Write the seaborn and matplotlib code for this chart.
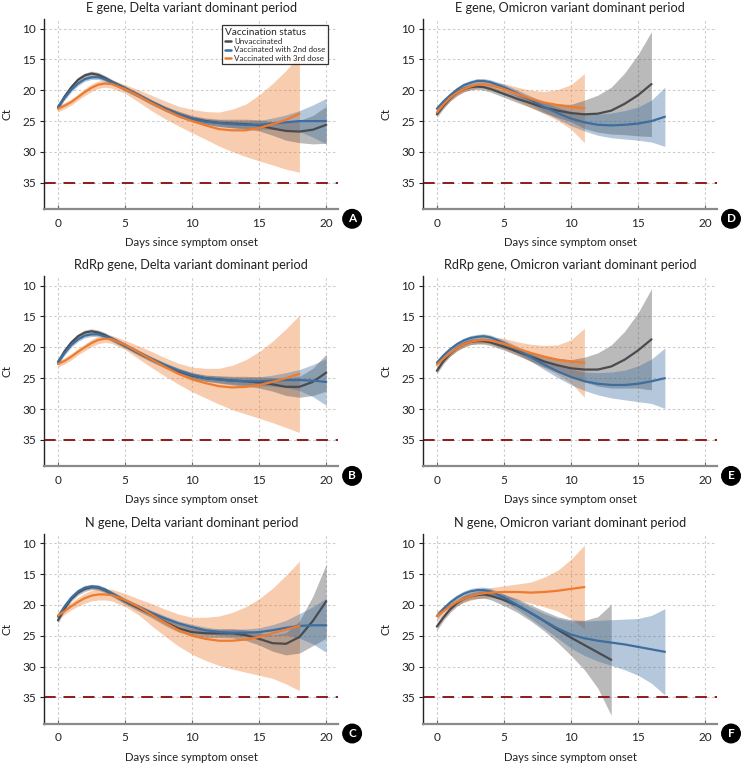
import numpy as np
import pandas as pd
import matplotlib
matplotlib.use("Agg")
import matplotlib.pyplot as plt
import seaborn as sns

# ---------------- data ----------------
DAYS = [0, 0.5, 1, 1.5, 2, 2.5, 3, 3.5, 4, 5, 6, 7, 8, 9, 10, 11, 12, 13, 14, 15, 16, 17, 18, 19, 20]
STATUS = ["Unvaccinated", "Vaccinated with 2nd dose", "Vaccinated with 3rd dose"]
X_TICKS = [0, 5, 10, 15, 20]
Y_TICKS = [10, 15, 20, 25, 30, 35]
THRESHOLD = 35
TITLES = ["E gene, Delta variant dominant period",
          "RdRp gene, Delta variant dominant period",
          "N gene, Delta variant dominant period",
          "E gene, Omicron variant dominant period",
          "RdRp gene, Omicron variant dominant period",
          "N gene, Omicron variant dominant period"]
LETTERS = ["A", "B", "C", "D", "E", "F"]

# Panel A
A_unvax = [22.8, 21.0, 19.5, 18.3, 17.6, 17.3, 17.5, 18.0, 18.6, 19.7, 20.8, 22.0, 23.0, 23.9, 24.6, 25.0, 25.3, 25.4, 25.5, 25.7, 26.2, 26.6, 26.7, 26.4, 25.6]
A_unvax_ci = [0.4, 0.4, 0.4, 0.4, 0.4, 0.4, 0.4, 0.4, 0.4, 0.4, 0.4, 0.4, 0.4, 0.5, 0.5, 0.5, 0.6, 0.7, 0.8, 0.9, 1.1, 1.5, 1.8, 2.3, 3.0]
A_second = [22.7, 21.2, 19.9, 18.9, 18.2, 17.9, 17.9, 18.2, 18.7, 19.7, 20.8, 21.9, 23.0, 23.9, 24.6, 25.1, 25.3, 25.5, 25.6, 25.6, 25.4, 25.2, 25.0, 25.0, 25.0]
A_second_ci = [0.4, 0.35, 0.35, 0.35, 0.35, 0.35, 0.35, 0.35, 0.35, 0.35, 0.35, 0.35, 0.4, 0.4, 0.4, 0.45, 0.5, 0.55, 0.6, 0.7, 0.9, 1.2, 1.7, 2.6, 3.7]
A_third = [23.0, 22.5, 21.9, 21.1, 20.3, 19.6, 19.1, 18.9, 19.0, 19.8, 20.9, 22.1, 23.2, 24.2, 25.0, 25.7, 26.3, 26.5, 26.5, 26.1, 25.5, 24.8, 23.8]
A_third_ci = [0.5, 0.5, 0.5, 0.5, 0.55, 0.6, 0.6, 0.6, 0.65, 0.7, 1.0, 1.25, 1.45, 1.6, 1.9, 2.25, 2.75, 3.45, 4.25, 5.35, 6.6, 8.0, 9.5]

# Panel B
B_unvax = [22.4, 20.6, 19.2, 18.2, 17.6, 17.4, 17.6, 18.0, 18.6, 19.7, 20.9, 22.0, 23.0, 23.9, 24.6, 25.0, 25.2, 25.4, 25.5, 25.7, 26.0, 26.4, 26.4, 25.6, 24.1]
B_unvax_ci = [0.4, 0.4, 0.4, 0.4, 0.4, 0.4, 0.4, 0.4, 0.4, 0.4, 0.4, 0.4, 0.4, 0.5, 0.5, 0.5, 0.6, 0.7, 0.8, 0.9, 1.1, 1.4, 1.7, 2.2, 3.0]
B_second = [22.4, 20.9, 19.6, 18.7, 18.1, 17.9, 17.9, 18.2, 18.6, 19.7, 20.8, 21.9, 22.9, 23.8, 24.5, 25.0, 25.2, 25.4, 25.5, 25.5, 25.4, 25.3, 25.3, 25.4, 25.6]
B_second_ci = [0.4, 0.35, 0.35, 0.35, 0.35, 0.35, 0.35, 0.35, 0.35, 0.35, 0.35, 0.35, 0.4, 0.4, 0.4, 0.45, 0.5, 0.55, 0.6, 0.7, 0.9, 1.2, 1.7, 2.6, 3.8]
B_third = [22.7, 22.2, 21.5, 20.7, 20.0, 19.3, 18.8, 18.6, 18.7, 19.6, 20.8, 22.0, 23.2, 24.3, 25.2, 25.8, 26.3, 26.5, 26.4, 26.1, 25.6, 25.0, 24.3]
B_third_ci = [0.5, 0.5, 0.5, 0.5, 0.55, 0.6, 0.6, 0.6, 0.65, 0.75, 1.05, 1.3, 1.5, 1.7, 2.0, 2.4, 2.9, 3.6, 4.4, 5.4, 6.6, 8.0, 9.5]

# Panel C
C_unvax = [22.5, 20.5, 19.0, 18.0, 17.4, 17.1, 17.2, 17.6, 18.2, 19.4, 20.5, 21.6, 22.8, 23.8, 24.4, 24.6, 24.6, 24.6, 24.9, 25.5, 26.2, 26.3, 25.2, 22.6, 19.4]
C_unvax_ci = [0.5, 0.4, 0.4, 0.4, 0.4, 0.4, 0.4, 0.4, 0.4, 0.45, 0.5, 0.5, 0.55, 0.6, 0.6, 0.65, 0.7, 0.75, 0.85, 1.0, 1.3, 1.8, 2.6, 4.0, 6.0]
C_second = [21.9, 20.2, 18.8, 17.8, 17.2, 17.0, 17.1, 17.5, 18.1, 19.3, 20.3, 21.3, 22.2, 23.0, 23.6, 24.1, 24.4, 24.5, 24.5, 24.4, 24.1, 23.7, 23.4, 23.3, 23.3]
C_second_ci = [0.4, 0.35, 0.35, 0.35, 0.35, 0.35, 0.35, 0.35, 0.35, 0.35, 0.35, 0.4, 0.4, 0.4, 0.45, 0.5, 0.5, 0.55, 0.6, 0.7, 0.9, 1.2, 2.0, 3.0, 4.4]
C_third = [21.7, 21.0, 20.2, 19.5, 18.9, 18.5, 18.3, 18.3, 18.4, 19.2, 20.3, 21.6, 22.9, 24.1, 25.0, 25.5, 25.8, 25.8, 25.6, 25.2, 24.6, 24.0, 23.4]
C_third_ci = [0.55, 0.55, 0.6, 0.7, 0.8, 0.85, 0.9, 0.9, 0.95, 1.05, 1.3, 1.8, 2.2, 2.6, 3.0, 3.5, 4.0, 4.6, 5.3, 6.2, 7.3, 8.8, 10.5]

# Panel D
D_unvax = [23.9, 22.5, 21.3, 20.4, 19.8, 19.5, 19.4, 19.5, 19.8, 20.6, 21.4, 22.1, 22.8, 23.3, 23.7, 23.9, 23.8, 23.3, 22.2, 20.8, 19.0]
D_unvax_ci = [0.5, 0.45, 0.45, 0.45, 0.45, 0.45, 0.45, 0.5, 0.5, 0.55, 0.6, 0.7, 0.9, 1.1, 1.4, 2.3, 3.0, 3.8, 5.0, 6.6, 8.5]
D_second = [23.0, 21.8, 20.8, 19.9, 19.2, 18.8, 18.5, 18.5, 18.7, 19.5, 20.5, 21.6, 22.7, 23.7, 24.6, 25.2, 25.6, 25.7, 25.6, 25.4, 25.0, 24.3]
D_second_ci = [0.4, 0.4, 0.4, 0.4, 0.4, 0.4, 0.4, 0.4, 0.4, 0.5, 0.55, 0.65, 0.8, 0.95, 1.15, 1.4, 1.7, 2.0, 2.3, 2.7, 3.4, 4.8]
D_third = [23.6, 22.3, 21.2, 20.4, 19.8, 19.4, 19.1, 19.0, 19.2, 19.8, 20.6, 21.4, 22.0, 22.4, 22.7, 22.9]
D_third_ci = [0.5, 0.5, 0.5, 0.5, 0.5, 0.5, 0.55, 0.55, 0.6, 0.85, 1.1, 1.4, 1.8, 2.5, 3.6, 5.6]

# Panel E
E_unvax = [23.8, 22.2, 21.0, 20.1, 19.5, 19.1, 19.0, 19.0, 19.2, 19.9, 20.7, 21.5, 22.3, 22.9, 23.4, 23.6, 23.6, 23.1, 22.0, 20.5, 18.7]
E_unvax_ci = [0.5, 0.45, 0.45, 0.45, 0.45, 0.45, 0.45, 0.5, 0.5, 0.55, 0.6, 0.7, 0.9, 1.1, 1.4, 2.0, 2.7, 3.5, 4.6, 6.1, 8.2]
E_second = [22.5, 21.3, 20.3, 19.5, 18.9, 18.5, 18.3, 18.2, 18.4, 19.3, 20.4, 21.6, 22.8, 23.9, 24.8, 25.5, 25.9, 26.1, 26.1, 25.9, 25.5, 25.0]
E_second_ci = [0.4, 0.4, 0.4, 0.4, 0.4, 0.4, 0.4, 0.4, 0.4, 0.5, 0.55, 0.65, 0.8, 1.0, 1.25, 1.5, 1.8, 2.1, 2.4, 2.9, 3.6, 4.9]
E_third = [22.8, 21.8, 20.9, 20.1, 19.5, 19.1, 18.9, 18.8, 18.9, 19.4, 20.2, 20.9, 21.5, 22.0, 22.3, 22.5]
E_third_ci = [0.5, 0.5, 0.5, 0.5, 0.5, 0.5, 0.55, 0.55, 0.6, 0.85, 1.1, 1.4, 1.8, 2.4, 3.5, 5.6]

# Panel F
F_unvax = [23.5, 22.0, 20.7, 19.7, 19.0, 18.6, 18.4, 18.3, 18.5, 19.2, 20.1, 21.3, 22.6, 24.0, 25.3, 26.5, 27.7, 28.9]
F_unvax_ci = [0.6, 0.5, 0.5, 0.5, 0.5, 0.5, 0.55, 0.6, 0.65, 0.9, 1.1, 1.3, 1.6, 2.1, 2.9, 4.0, 5.8, 9.0]
F_second = [21.8, 20.6, 19.6, 18.8, 18.2, 17.8, 17.6, 17.6, 17.8, 18.8, 20.0, 21.3, 22.6, 23.8, 24.8, 25.4, 25.8, 26.1, 26.4, 26.8, 27.2, 27.6]
F_second_ci = [0.5, 0.45, 0.45, 0.45, 0.45, 0.45, 0.45, 0.5, 0.5, 0.6, 0.75, 0.95, 1.2, 1.6, 2.2, 2.8, 3.3, 3.7, 4.1, 4.6, 5.5, 7.0]
F_third = [21.8, 21.0, 20.2, 19.5, 19.0, 18.6, 18.3, 18.1, 18.0, 17.9, 17.9, 18.0, 17.9, 17.7, 17.4, 17.1]
F_third_ci = [0.8, 0.7, 0.6, 0.6, 0.6, 0.65, 0.7, 0.75, 0.8, 1.0, 1.3, 1.7, 2.4, 3.3, 4.8, 6.8]

# ---------------- style ----------------
COLORS = ["#4b4b4e", "#3e6e9e", "#ee7b2e"]
sns.set_style("white")
plt.rcParams["font.family"] = ["Lato", "DejaVu Sans"]

PANELS = [
    ((A_unvax, A_unvax_ci), (A_second, A_second_ci), (A_third, A_third_ci)),
    ((B_unvax, B_unvax_ci), (B_second, B_second_ci), (B_third, B_third_ci)),
    ((C_unvax, C_unvax_ci), (C_second, C_second_ci), (C_third, C_third_ci)),
    ((D_unvax, D_unvax_ci), (D_second, D_second_ci), (D_third, D_third_ci)),
    ((E_unvax, E_unvax_ci), (E_second, E_second_ci), (E_third, E_third_ci)),
    ((F_unvax, F_unvax_ci), (F_second, F_second_ci), (F_third, F_third_ci)),
]

W, H = 743, 766
fig = plt.figure(figsize=(W / 100, H / 100), dpi=100)
col_left = [44.3 / W, 423.2 / W]
ax_w = 294 / W
ax_h = 190 / H
row_bottom = [1 - 209.3 / H, 1 - 466.4 / H, 1 - 724 / H]

for idx, series in enumerate(PANELS):
    col, row = divmod(idx, 3)
    ax = fig.add_axes([col_left[col], row_bottom[row], ax_w, ax_h])

    frames = []
    fill_order = [2, 0, 1]
    for k in fill_order:
        mean, ci = series[k]
        d = np.array(DAYS[:len(mean)])
        m = np.array(mean)
        c = np.array(ci)
        ax.fill_between(d, m - c, m + c, color=COLORS[k], alpha=0.38, lw=0, zorder=2)
    for k, (mean, ci) in enumerate(series):
        frames.append(pd.DataFrame({"day": DAYS[:len(mean)], "ct": mean, "status": STATUS[k]}))
    df = pd.concat(frames, ignore_index=True)
    sns.lineplot(data=df, x="day", y="ct", hue="status", hue_order=STATUS,
                 palette=COLORS, errorbar=None, linewidth=1.6, ax=ax,
                 legend=(idx == 0), zorder=3)

    ax.axhline(THRESHOLD, color="#8e1b1b", lw=1.4, ls=(0, (6, 4)), zorder=2.5)

    ax.set_xlim(-1.02, 20.9)
    ax.set_ylim(39.3, 8.5)
    ax.set_xticks(X_TICKS)
    ax.set_yticks(Y_TICKS)
    ax.grid(True, color="#cccccc", ls=(0, (2.2, 2.2)), lw=0.8)
    ax.set_axisbelow(True)
    for s in ["top", "right"]:
        ax.spines[s].set_visible(False)
    ax.spines["left"].set_color("#222222")
    ax.spines["left"].set_linewidth(1.0)
    ax.spines["bottom"].set_color("#8a8a8a")
    ax.spines["bottom"].set_linewidth(1.6)
    ax.tick_params(axis="y", direction="out", length=3, width=0.8, color="#222222",
                   labelsize=8.5, pad=3, labelcolor="#222222", left=True)
    ax.tick_params(axis="x", direction="in", length=3, width=0.8, color="#666666",
                   labelsize=8.5, pad=6, labelcolor="#222222", bottom=True)
    ax.set_xlabel("Days since symptom onset", fontsize=8.2, color="#222222", labelpad=6)
    ax.set_ylabel("Ct", fontsize=8.5, color="#222222", labelpad=7)
    ax.set_title(TITLES[idx], fontsize=9.2, color="#222222", pad=5)

    ax.text(1.047, -0.05, LETTERS[idx], transform=ax.transAxes, ha="center", va="center",
            color="white", fontsize=8.5, fontweight="bold",
            bbox=dict(boxstyle="circle,pad=0.32", fc="black", ec="black"))

    if idx == 0:
        leg = ax.legend(title="Vaccination status", loc="upper right",
                        bbox_to_anchor=(0.98, 0.99), fontsize=5.8, title_fontsize=7.2,
                        frameon=True, fancybox=False, edgecolor="black",
                        handlelength=0.8, handletextpad=0.4, borderpad=0.35,
                        labelspacing=0.15)
        leg.get_frame().set_linewidth(0.9)
        leg._legend_box.align = "left"
        for line in leg.get_lines():
            line.set_linewidth(1.8)

fig.savefig("out.png", dpi=100)
